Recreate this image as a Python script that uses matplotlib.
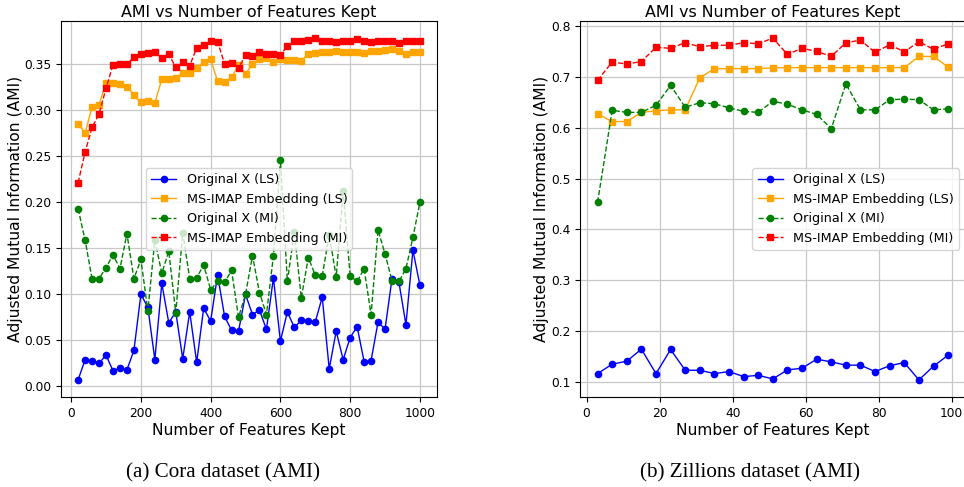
import matplotlib
matplotlib.use("Agg")
import matplotlib.pyplot as plt

# ---------------- data: Cora ----------------
cora_x = [20, 40, 60, 80, 100, 120, 140, 160, 180, 200,
          220, 240, 260, 280, 300, 320, 340, 360, 380, 400,
          420, 440, 460, 480, 500, 520, 540, 560, 580, 600,
          620, 640, 660, 680, 700, 720, 740, 760, 780, 800,
          820, 840, 860, 880, 900, 920, 940, 960, 980, 1000]
cora_orig_ls = [0.007, 0.029, 0.028, 0.025, 0.034, 0.017, 0.020, 0.018, 0.039, 0.100,
                0.086, 0.029, 0.112, 0.069, 0.081, 0.030, 0.081, 0.026, 0.085, 0.071,
                0.121, 0.076, 0.061, 0.060, 0.100, 0.078, 0.083, 0.062, 0.118, 0.049,
                0.081, 0.064, 0.072, 0.071, 0.070, 0.097, 0.019, 0.060, 0.029, 0.053,
                0.065, 0.027, 0.028, 0.070, 0.062, 0.117, 0.113, 0.067, 0.148, 0.110]
cora_msimap_ls = [0.2855, 0.2757, 0.3036, 0.306, 0.330, 0.3293, 0.3286, 0.326, 0.317, 0.3087,
                  0.310, 0.308, 0.334, 0.334, 0.3355, 0.341, 0.341, 0.346, 0.353, 0.3558,
                  0.3315, 0.331, 0.336, 0.349, 0.340, 0.350, 0.356, 0.357, 0.3525, 0.356,
                  0.355, 0.355, 0.354, 0.3616, 0.3627, 0.364, 0.364, 0.365, 0.363, 0.363,
                  0.363, 0.3627, 0.365, 0.365, 0.366, 0.367, 0.3645, 0.361, 0.363, 0.363]
cora_orig_mi = [0.193, 0.159, 0.117, 0.117, 0.129, 0.143, 0.128, 0.166, 0.117, 0.138,
                0.082, 0.159, 0.123, 0.147, 0.080, 0.167, 0.117, 0.118, 0.132, 0.105,
                0.114, 0.113, 0.126, 0.075, 0.100, 0.142, 0.102, 0.078, 0.142, 0.246,
                0.114, 0.168, 0.096, 0.140, 0.121, 0.120, 0.165, 0.119, 0.212, 0.120,
                0.114, 0.128, 0.078, 0.170, 0.144, 0.115, 0.114, 0.128, 0.162, 0.200]
cora_msimap_mi = [0.2214, 0.2547, 0.2815, 0.296, 0.324, 0.3496, 0.3504, 0.350, 0.358, 0.361,
                  0.362, 0.363, 0.357, 0.361, 0.347, 0.353, 0.3486, 0.368, 0.371, 0.375,
                  0.3746, 0.3507, 0.352, 0.346, 0.360, 0.359, 0.363, 0.361, 0.361, 0.3605,
                  0.3696, 0.375, 0.375, 0.377, 0.3786, 0.376, 0.376, 0.374, 0.376, 0.376,
                  0.3775, 0.375, 0.374, 0.375, 0.375, 0.375, 0.373, 0.375, 0.375, 0.375]

# ---------------- data: Zillions ----------------
zil_x = [3, 7, 11, 15, 19, 23, 27, 31, 35, 39, 43, 47, 51,
         55, 59, 63, 67, 71, 75, 79, 83, 87, 91, 95, 99]
zil_orig_ls = [0.1164, 0.1349, 0.1408, 0.1645, 0.1164, 0.1638, 0.123, 0.123, 0.1164, 0.1204,
               0.1105, 0.113, 0.106, 0.1237, 0.127, 0.1447, 0.1395, 0.133, 0.133, 0.1204,
               0.132, 0.138, 0.104, 0.131, 0.1526]
zil_msimap_ls = [0.627, 0.612, 0.612, 0.630, 0.633, 0.635, 0.635, 0.698, 0.716, 0.716,
                 0.716, 0.716, 0.7175, 0.718, 0.718, 0.718, 0.718, 0.718, 0.718, 0.718,
                 0.718, 0.718, 0.740, 0.740, 0.719]
zil_orig_mi = [0.453, 0.634, 0.630, 0.630, 0.644, 0.683, 0.640, 0.649, 0.647, 0.639,
               0.632, 0.630, 0.652, 0.646, 0.635, 0.626, 0.598, 0.686, 0.635, 0.635,
               0.655, 0.656, 0.655, 0.635, 0.637]
zil_msimap_mi = [0.693, 0.729, 0.725, 0.730, 0.758, 0.756, 0.767, 0.759, 0.762, 0.762,
                 0.767, 0.765, 0.776, 0.744, 0.756, 0.750, 0.740, 0.767, 0.772, 0.748,
                 0.763, 0.749, 0.769, 0.754, 0.765]

labels = ["Original X (LS)", "MS-IMAP Embedding (LS)",
          "Original X (MI)", "MS-IMAP Embedding (MI)"]
title = "AMI vs Number of Features Kept"
xlabel = "Number of Features Kept"
ylabel = "Adjusted Mutual Information (AMI)"
captions = ["(a) Cora dataset (AMI)", "(b) Zillions dataset (AMI)"]

plt.rcParams['font.family'] = ['DejaVu Sans']

fig = plt.figure(figsize=(9.64, 4.87), dpi=100)
ax1 = fig.add_axes([0.0633, 0.1848, 0.390, 0.772])
ax2 = fig.add_axes([0.6017, 0.1848, 0.400, 0.772])

FS_T = 11.4
FS_L = 11.2
FS_TICK = 8.8
FS_LEG = 9.2


def draw(ax, x, s1, s2, s3, s4, loc, fmt):
    ax.plot(x, s1, color='blue', linestyle='-', marker='o', markersize=4.5, linewidth=1, label=labels[0])
    ax.plot(x, s2, color='orange', linestyle='-', marker='s', markersize=4.5, linewidth=1, label=labels[1])
    ax.plot(x, s3, color='green', linestyle='--', marker='o', markersize=4.5, linewidth=1, label=labels[2])
    ax.plot(x, s4, color='red', linestyle='--', marker='s', markersize=4.5, linewidth=1, label=labels[3])
    ax.set_title(title, fontsize=FS_T, pad=3)
    ax.set_xlabel(xlabel, fontsize=FS_L, labelpad=2)
    ax.set_ylabel(ylabel, fontsize=FS_L, labelpad=1)
    ax.tick_params(labelsize=FS_TICK)
    ax.grid(True, color='#c8c8c8', linewidth=0.9)
    ax.yaxis.set_major_formatter(matplotlib.ticker.FormatStrFormatter(fmt))
    ax.legend(loc=loc, fontsize=FS_LEG)


draw(ax1, cora_x, cora_orig_ls, cora_msimap_ls, cora_orig_mi, cora_msimap_mi, 'center', '%.2f')
ax1.set_xticks([0, 200, 400, 600, 800, 1000])
draw(ax2, zil_x, zil_orig_ls, zil_msimap_ls, zil_orig_mi, zil_msimap_mi, 'center right', '%.1f')
ax2.set_xticks([0, 20, 40, 60, 80, 100])

fig.text(0.231, 0.029, captions[0], ha='center', va='center', fontsize=15.2,
         family=['Liberation Serif', 'DejaVu Serif'])
fig.text(0.778, 0.029, captions[1], ha='center', va='center', fontsize=15.2,
         family=['Liberation Serif', 'DejaVu Serif'])

fig.savefig("out.png", dpi=100)
